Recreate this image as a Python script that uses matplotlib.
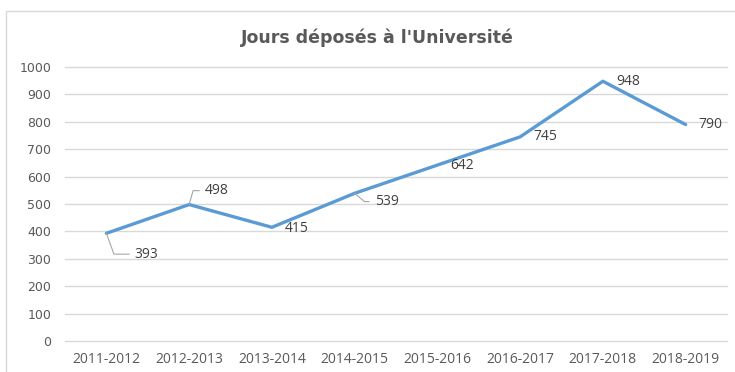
import matplotlib
matplotlib.use("Agg")
import matplotlib.pyplot as plt
from matplotlib.patches import Rectangle

seasons = ["2011-2012", "2012-2013", "2013-2014", "2014-2015",
           "2015-2016", "2016-2017", "2017-2018", "2018-2019"]
jours = [393, 498, 415, 539, 642, 745, 948, 790]
title = "Jours déposés à l'Université"

# label offsets (points) and leader-line angle at the point (None = no leader)
label_offsets = [(29, -15), (20, 10), (18, -1), (23, -6), (18, 0), (18, 0), (18, 0), (18, 0)]
leader_angles = [110, 74, None, 140, None, None, None, None]

text_col = "#595959"
line_col = "#5B9BD5"
grid_col = "#D9D9D9"

fig = plt.figure(figsize=(7.35, 3.72), dpi=100)
fig.patches.append(Rectangle((6 / 735, -0.1), 1.2, 1 - 11 / 372 + 0.1,
                             transform=fig.transFigure, fill=False,
                             edgecolor="#D9D9D9", lw=1.0))

ax = fig.add_axes([65 / 735, 1 - 341 / 372, (727 - 65) / 735, (341 - 67) / 372])
x = list(range(len(seasons)))
ax.plot(x, jours, color=line_col, lw=2.4, solid_joinstyle="round",
        solid_capstyle="round", zorder=3)

ax.set_xlim(-0.5, len(seasons) - 0.5)
ax.set_ylim(0, 1000)
ax.set_yticks(range(0, 1001, 100))
ax.set_xticks(x)
ax.set_xticklabels(seasons)
ax.yaxis.grid(True, color=grid_col, lw=1.0)
for gl in ax.get_ygridlines():
    gl.set_clip_on(False)
ax.set_axisbelow(True)
for s in ax.spines.values():
    s.set_visible(False)
ax.tick_params(length=0, colors=text_col)
ax.tick_params(axis="x", labelsize=10, pad=8)
ax.tick_params(axis="y", labelsize=9, pad=10)
for lbl in ax.get_xticklabels():
    lbl.set_fontfamily("Open Sans")
for lbl in ax.get_yticklabels():
    lbl.set_fontfamily("DejaVu Sans")

for i, (v, off, ang) in enumerate(zip(jours, label_offsets, leader_angles)):
    kw = {}
    if ang is not None:
        kw["arrowprops"] = dict(arrowstyle="-", color="#A6A6A6", lw=0.8,
                                shrinkA=2, shrinkB=0, relpos=(0, 0.5),
                                connectionstyle=f"angle,angleA=0,angleB={ang},rad=0")
    ax.annotate(str(v), xy=(i, v), xytext=off, textcoords="offset points",
                ha="center", va="center", fontsize=10, color="#404040",
                fontfamily="Open Sans", **kw)

fig.text(377 / 735, 1 - 38 / 372, title, ha="center", va="center",
         fontsize=12.5, fontweight="bold", color=text_col, fontfamily="DejaVu Sans")

fig.savefig("out.png", dpi=100)
